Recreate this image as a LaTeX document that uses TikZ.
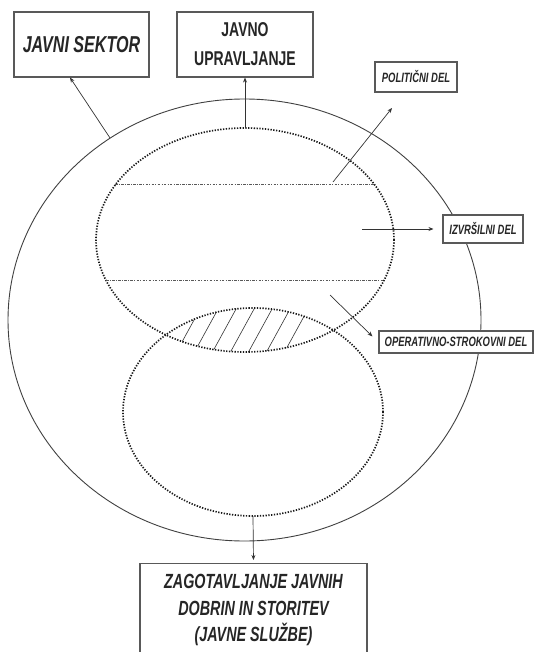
\documentclass[tikz,border=0pt]{standalone}
\usepackage{fontspec}
\setmainfont{Liberation Sans}
\newfontfamily\labelfont[FakeStretch=0.7]{Liberation Sans}
\usetikzlibrary{arrows.meta,calc}

\begin{document}
\begin{tikzpicture}[x=1pt,y=-1pt,
  box/.style={draw=black!65, line width=1.1pt, fill=white, inner sep=0pt, align=center, text=black!85},
  bigtxt/.style={font=\labelfont\bfseries\itshape\fontsize{23}{27}\selectfont},
  midtxt/.style={font=\labelfont\bfseries\fontsize{20}{29}\selectfont},
  lowtxt/.style={font=\labelfont\bfseries\itshape\fontsize{20.5}{26.5}\selectfont},
  smalltxt/.style={font=\labelfont\bfseries\itshape\fontsize{13.5}{15}\selectfont},
  ring/.style={draw=black!75, line width=0.9pt},
  dotring/.style={draw=black!90, line width=1.7pt, dash pattern=on 1.3pt off 1.5pt},
  level/.style={draw=black!65, line width=1pt, dash pattern=on 2.5pt off 1.3pt on 1pt off 1.3pt},
  hatch/.style={draw=black!80, line width=0.6pt},
  link/.style={draw=black!80, line width=0.7pt, -{Stealth[length=5pt,width=4pt]}}
]
\useasboundingbox (0,0) rectangle (534,652);
\clip (0,0) rectangle (534,652);

% outer ellipse: the public sector
\draw[ring] (244.5,320) ellipse [x radius=236.5pt, y radius=221pt];

% hatched overlap of the two inner ellipses
\begin{scope}
  \clip (245,240) ellipse [x radius=149pt, y radius=112pt];
  \clip (253,412) ellipse [x radius=130pt, y radius=104pt];
  \foreach \hx in {188,206,...,310}
    \draw[hatch] (\hx-17,362) -- (\hx+17,300);
\end{scope}

% upper (governance) and lower (service delivery) ellipses
\draw[dotring] (245,240) ellipse [x radius=149pt, y radius=112pt];
\draw[dotring] (253,412) ellipse [x radius=130pt, y radius=104pt];

% levels inside the governance ellipse
\draw[level] (115,185) -- (375,185);
\draw[level] (106,280) -- (384,280);

% labelled boxes
\node[box, minimum width=135pt, minimum height=65pt, bigtxt] (sektor) at (81.5,44.5) {JAVNI SEKTOR};
\node[box, minimum width=136pt, minimum height=65pt, midtxt] (upr) at (245,44.5) {JAVNO\\UPRAVLJANJE};
\node[box, minimum width=82pt, minimum height=30pt, smalltxt] (pol) at (416,77) {POLITIČNI DEL};
\node[box, minimum width=80pt, minimum height=28pt, smalltxt] (izv) at (483,229) {IZVRŠILNI DEL};
\node[box, minimum width=154pt, minimum height=22pt, smalltxt] (oper) at (456,342) {OPERATIVNO-STROKOVNI DEL};
\node[box, anchor=north, minimum width=227pt, minimum height=120pt] (zag) at (253.5,563) {};
\node[lowtxt, align=center, text=black!85] (zagtxt) at (253.5,610) {ZAGOTAVLJANJE JAVNIH\\DOBRIN IN STORITEV\\(JAVNE SLUŽBE)};

% connector end points
\coordinate (sekA) at (110,138);
\coordinate (uprA) at (245,128);
\coordinate (polA) at (333,182);
\coordinate (polB) at (392,108);
\coordinate (izvA) at (362,229);
\coordinate (operA) at (330,295);
\coordinate (zagA) at (253,516);

% connectors
\draw[link] (sekA) -- ($(sektor.south)+(-11.5,0)$);
\draw[link] (uprA) -- (upr.south);
\draw[link] (polA) -- (polB);
\draw[link, shorten >=9pt] (izvA) -- (izv.west);
\draw[link] (operA) -- ($(oper.north west)+(-6,6)$);
\draw[link, shorten >=3pt] (zagA) -- (zag.north);
\end{tikzpicture}
\end{document}
